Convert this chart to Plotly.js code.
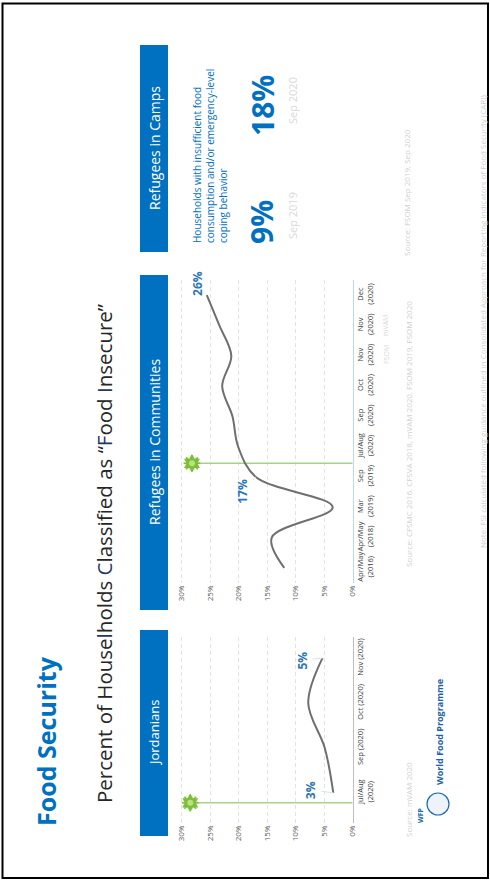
<!DOCTYPE html>
<html><head><meta charset="utf-8">
<script src="https://cdn.plot.ly/plotly-3.0.1.min.js"></script>
<style>html,body{margin:0;padding:0;background:#fff;}#chart{width:490px;height:881px;}</style>
</head><body><div id="chart"></div>
<script>
// ---- data ----
const valueTicks = [0, 5, 10, 15, 20, 25, 30];
const valueTickLabels = ["0%", "5%", "10%", "15%", "20%", "25%", "30%"];

const jorCategories = ["Jul/Aug<br>(2020)", "Sep (2020)", "Oct (2020)", "Nov (2020)"];
const jorValues = [3.4, 4.9, 7.8, 5.3];

const comCategories = ["Apr/May<br>(2016)", "Apr/May<br>(2018)", "Mar<br>(2019)", "Sep<br>(2019)", "Jul/Aug<br>(2020)",
                       "Sep<br>(2020)", "Oct<br>(2020)", "Nov<br>(2020)", "Nov<br>(2020)", "Dec<br>(2020)"];
const comValues = [12.0, 14.2, 3.5, 17.0, 20.1, 21.1, 22.9, 21.3, 23.4, 25.6];

const campValues = ["9%", "18%"];
const campDates = ["Sep 2019", "Sep 2020"];

// covid marker (green line) positions: [value, category index]
const jorMarker = [28.5, -0.22];
const comMarker = [28.2, 3.45];

// ---- helpers ----
const W = 490, H = 881;
const FONT = "Open Sans, Noto Sans, sans-serif";
const BLUE = "#0070C0";
const LBLUE = "#2E75B6";
const px = v => v / W;
const py = v => 1 - v / H;
function txt(text, x, y, size, color, extra) {
  return Object.assign({
    xref: "paper", yref: "paper", x: px(x), y: py(y), text: text, textangle: -90,
    showarrow: false, xanchor: "center", yanchor: "middle",
    font: { family: FONT, size: size, color: color }
  }, extra || {});
}
const idx = arr => arr.map((_, i) => i);

function burst(m, xa, ya) {
  return [
    { x: [m[0]], y: [m[1]], xaxis: xa, yaxis: ya, mode: "markers",
      marker: { symbol: "circle", size: 16, color: "rgba(146,208,80,0.18)", line: { width: 0 } } },
    { x: [m[0]], y: [m[1]], xaxis: xa, yaxis: ya, mode: "markers",
      marker: { symbol: "hexagram", size: 14, color: "#7DBE3C", line: { width: 0 } } },
    { x: [m[0]], y: [m[1]], xaxis: xa, yaxis: ya, mode: "markers",
      marker: { symbol: "asterisk-open", size: 14, color: "#7DBE3C", line: { width: 1.5, color: "#7DBE3C" } } },
    { x: [m[0]], y: [m[1]], xaxis: xa, yaxis: ya, mode: "markers",
      marker: { symbol: "circle", size: 6, color: "#B8E27A", line: { width: 0 } } }
  ];
}

const traces = [
  // green lines
  { x: [0, jorMarker[0]], y: [jorMarker[1], jorMarker[1]], xaxis: "x", yaxis: "y", mode: "lines",
    line: { color: "#A9D18E", width: 1.5 } },
  { x: [0, comMarker[0]], y: [comMarker[1], comMarker[1]], xaxis: "x2", yaxis: "y2", mode: "lines",
    line: { color: "#A9D18E", width: 1.5 } },
  // Jordanians line
  { x: jorValues, y: idx(jorValues), xaxis: "x", yaxis: "y", type: "scatter", mode: "lines",
    line: { color: "#6f6f6f", width: 2, shape: "spline", smoothing: 1 } },
  // Communities line
  { x: comValues, y: idx(comValues), xaxis: "x2", yaxis: "y2", type: "scatter", mode: "lines",
    line: { color: "#6f6f6f", width: 2, shape: "spline", smoothing: 1 } }
].concat(burst(jorMarker, "x", "y"), burst(comMarker, "x2", "y2"));

const xBase = {
  range: [30.3, 0], tickvals: valueTicks, ticktext: valueTickLabels, tickangle: -90,
  showgrid: true, gridcolor: "#e2e2e2", griddash: "4px,3px", gridwidth: 1,
  zeroline: false, showline: false, ticks: "", fixedrange: true,
  tickfont: { family: FONT, size: 8, color: "#595959" }
};
const yBase = {
  side: "right", showgrid: false, zeroline: false, showline: true, ticks: "", tickangle: -90,
  tickfont: { family: FONT, size: 7.5, color: "#404040" }, fixedrange: true
};

const layout = {
  width: W, height: H, margin: { l: 0, r: 0, t: 0, b: 0 },
  paper_bgcolor: "#ffffff", plot_bgcolor: "rgba(0,0,0,0)", showlegend: false,
  font: { family: FONT },
  xaxis: Object.assign({}, xBase, { domain: [px(180), px(352.7)], anchor: "y" }),
  yaxis: Object.assign({}, yBase, { domain: [py(823), py(637)], anchor: "x", range: [-0.67, 3.47],
    tickvals: idx(jorCategories), ticktext: jorCategories, linecolor: "#bfbfbf", linewidth: 1.5 }),
  xaxis2: Object.assign({}, xBase, { domain: [px(180), px(352.7)], anchor: "y2" }),
  yaxis2: Object.assign({}, yBase, { domain: [py(583), py(280)], anchor: "x2", range: [-0.5, 9.5],
    tickvals: idx(comCategories), ticktext: comCategories, linecolor: "#BDD7EE", linewidth: 1.5 }),
  shapes: [
    // slide border
    { type: "rect", xref: "paper", yref: "paper", x0: px(2.5), x1: px(488), y0: py(3.5), y1: py(878),
      line: { color: "#000000", width: 2 } },
    // header bars
    { type: "rect", xref: "paper", yref: "paper", x0: px(140), x1: px(168), y0: py(836), y1: py(630),
      fillcolor: BLUE, line: { width: 0 } },
    { type: "rect", xref: "paper", yref: "paper", x0: px(140), x1: px(168), y0: py(610), y1: py(275),
      fillcolor: BLUE, line: { width: 0 } },
    { type: "rect", xref: "paper", yref: "paper", x0: px(140), x1: px(168), y0: py(252), y1: py(45),
      fillcolor: BLUE, line: { width: 0 } },
    // WFP emblem
    { type: "circle", xref: "paper", yref: "paper", x0: px(427), x1: px(449), y0: py(793), y1: py(815),
      line: { color: "#1B6BB5", width: 1.2 }, fillcolor: "rgba(27,107,181,0.08)" }
  ],
  annotations: [
    txt("<b>Food Security</b>", 46, 741, 25, BLUE),
    txt("Percent of House<span style='color:#1F3864'>l</span>holds <span style='color:#1F3864'>C</span>lassified as \u201C<span style='color:#1F3864'>F</span>ood <span style='color:#1F3864'>I</span>nsecure\u201D",
        104, 554, 20.5, "#262626"),
    txt("Jordanians", 154, 733, 13, "#ffffff"),
    txt("Refugees in Communities", 154, 442, 14, "#ffffff"),
    txt("Refugees in Camps", 154, 148, 14, "#ffffff"),
    txt("Households with insufficient food<br>consumption and/or emergency-level<br>coping behavior",
        210, 156, 10, BLUE, { align: "left" }),
    txt("<b>" + campValues[0] + "</b>", 262, 222, 30, BLUE),
    txt("<b>" + campValues[1] + "</b>", 262, 106, 30, BLUE),
    txt(campDates[0], 292, 216, 11, "#d9d9d9"),
    txt(campDates[1], 292, 101, 11, "#d9d9d9"),
    txt("FSOM", 386, 355, 7, "#d9d9d9"),
    txt("mVAM", 386, 326, 7, "#d9d9d9"),
    txt("Source: mVAM 2020", 408, 800, 8, "#d0d0d0"),
    txt("Source: CFSMC 2016, CFSVA 2018, mVAM 2020, FSOM 2019, FSOM 2020", 408, 434, 8, "#d0d0d0"),
    txt("Source: FSOM Sep 2019, Sep 2020", 406, 193, 8, "#d0d0d0"),
    txt("Note: FSI calculated following guidance outlined in Consolidated Approach for Reporting Indicators of Food Security (CARI)",
        482, 322, 8, "#d0d0d0"),
    txt("<b>WFP</b>", 420, 815, 7, "#1B6BB5"),
    txt("<b>World Food Programme</b>", 439, 732, 9, "#1B5FA8"),
    // value labels
    { xref: "x2", yref: "y2", x: comValues[3], y: 3, text: "<b>17%</b>", textangle: -90, showarrow: true,
      arrowhead: 0, arrowwidth: 1, arrowcolor: "#D6E4F0", ax: -13, ay: 14,
      font: { family: FONT, size: 12, color: LBLUE } },
    { xref: "x2", yref: "y2", x: comValues[9], y: 9, text: "<b>26%</b>", textangle: -90, showarrow: true,
      arrowhead: 0, arrowwidth: 2, arrowcolor: "#DDEBF7", ax: -10, ay: -12,
      font: { family: FONT, size: 12, color: LBLUE } },
    { xref: "x", yref: "y", x: jorValues[0], y: 0, text: "<b>3%</b>", textangle: -90, showarrow: true,
      arrowhead: 0, arrowwidth: 1, arrowcolor: "#D6E4F0", ax: -22, ay: -3,
      font: { family: FONT, size: 12, color: LBLUE } },
    { xref: "x", yref: "y", x: jorValues[3], y: 3, text: "<b>5%</b>", textangle: -90, showarrow: true,
      arrowhead: 0, arrowwidth: 1, arrowcolor: "#D6E4F0", ax: -20, ay: 2,
      font: { family: FONT, size: 12, color: LBLUE } }
  ]
};

Plotly.newPlot("chart", traces, layout, { staticPlot: true, displayModeBar: false });
</script>
</body></html>
